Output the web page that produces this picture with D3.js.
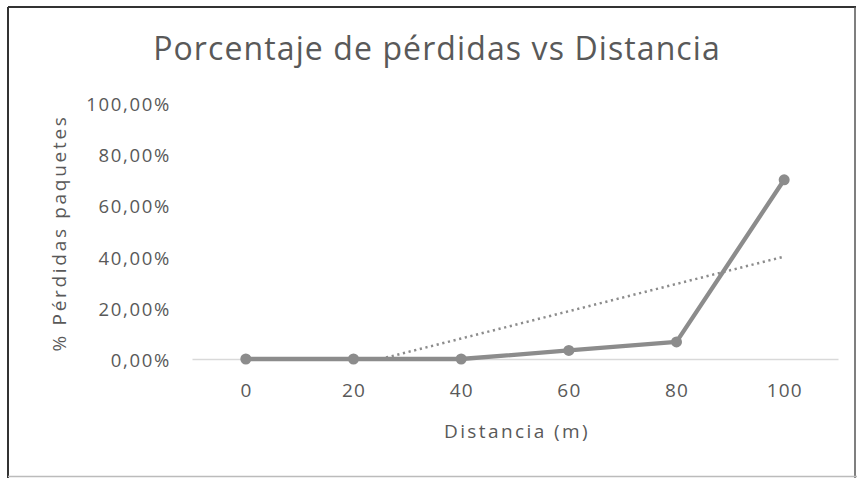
<!DOCTYPE html>
<html><head><meta charset="utf-8">
<script src="https://cdn.jsdelivr.net/npm/d3@7"></script>
<style>body{margin:0;background:#fff}svg{display:block}text{font-family:"Open Sans",Roboto,sans-serif}</style>
</head><body><svg id="c" width="857" height="478"></svg>
<script>
const categories = ["0","20","40","60","80","100"];
const perdidas = [0, 0, 0, 0.0333, 0.0667, 0.70];
const yTicks = [0, 0.2, 0.4, 0.6, 0.8, 1.0];
const title = "Porcentaje de pérdidas vs Distancia";
const xTitle = "Distancia (m)";
const yTitle = "% Pérdidas paquetes";

(function(){
const svg = d3.select("#c");
const W = 857, H = 478;
const txt = "#595959";
svg.append("rect").attr("x",0).attr("y",0).attr("width",W).attr("height",H).attr("fill","#fff");
// frame
svg.append("line").attr("x1",8).attr("y1",7).attr("x2",856).attr("y2",7).attr("stroke","#333").attr("stroke-width",2);
svg.append("line").attr("x1",8).attr("y1",7).attr("x2",8).attr("y2",478).attr("stroke","#333").attr("stroke-width",2);
svg.append("line").attr("x1",855).attr("y1",7).attr("x2",855).attr("y2",478).attr("stroke","#555").attr("stroke-width",1.5);
svg.append("line").attr("x1",8).attr("y1",476.5).attr("x2",857).attr("y2",476.5).attr("stroke","#bbb").attr("stroke-width",1.5);

const pLeft = 192, pRight = 838, pTop = 103, pBottom = 359;
const x = d3.scaleBand().domain(categories).range([pLeft, pRight]);
const y = d3.scaleLinear().domain([0, 1]).range([pBottom, pTop]);
const fmt = v => d3.format(".2f")(v*100).replace(".", ",") + "%";

svg.append("text").attr("x", 437).attr("y", 60).attr("text-anchor","middle")
  .attr("font-size", 32).attr("letter-spacing", 1.1).attr("fill", txt).text(title);

const yAxis = d3.axisLeft(y).tickValues(yTicks).tickFormat(fmt).tickSize(0).tickPadding(0);
const ga = svg.append("g").attr("transform",`translate(171,0)`).call(yAxis);
ga.select(".domain").remove();
ga.selectAll("text").attr("font-size",18.5).attr("letter-spacing",1.7).attr("dy","0.4em")
  .attr("fill",txt).attr("font-family","'Open Sans',sans-serif");

const xAxis = d3.axisBottom(x).tickSize(0).tickPadding(24.5);
const gx = svg.append("g").attr("transform",`translate(0,${pBottom})`).call(xAxis);
gx.select(".domain").attr("stroke","#d9d9d9").attr("stroke-width",1.3);
gx.selectAll("text").attr("font-size",19).attr("letter-spacing",1.2).attr("dx","0.6")
  .attr("fill",txt).attr("font-family","'Open Sans',sans-serif");

svg.append("text").attr("x", 517).attr("y", 438).attr("text-anchor","middle")
  .attr("font-size",19).attr("letter-spacing",2.4).attr("fill",txt).text(xTitle);
svg.append("text").attr("transform","translate(66,233) rotate(-90)").attr("text-anchor","middle")
  .attr("font-size",19).attr("letter-spacing",2.7).attr("fill",txt).text(yTitle);

const cx = c => x(c) + x.bandwidth()/2;

const n = perdidas.length;
const xs = perdidas.map((_, i) => i + 1);
const mx = d3.mean(xs), my = d3.mean(perdidas);
const slope = d3.sum(xs.map((xi,i)=>(xi-mx)*(perdidas[i]-my))) / d3.sum(xs.map(xi=>(xi-mx)**2));
const intercept = my - slope*mx;
const x0 = Math.max(1, -intercept/slope);
const idxToPx = t => cx(categories[0]) + (t-1)*x.step();
svg.append("line")
  .attr("x1", idxToPx(x0)).attr("y1", y(Math.max(0, intercept + slope*x0)))
  .attr("x2", idxToPx(n)).attr("y2", y(intercept + slope*n))
  .attr("stroke","#8c8c8c").attr("stroke-width",2.5).attr("stroke-dasharray","2.2,3.6");

const line = d3.line().x((d,i)=>cx(categories[i])).y(d=>y(d));
svg.append("path").datum(perdidas).attr("d", line).attr("fill","none")
  .attr("stroke","#8c8c8c").attr("stroke-width",4.3).attr("stroke-linejoin","round");
svg.selectAll("circle.pt").data(perdidas).enter().append("circle").attr("class","pt")
  .attr("cx",(d,i)=>cx(categories[i])).attr("cy",d=>y(d)).attr("r",5.5).attr("fill","#8c8c8c");
})();
</script></body></html>
